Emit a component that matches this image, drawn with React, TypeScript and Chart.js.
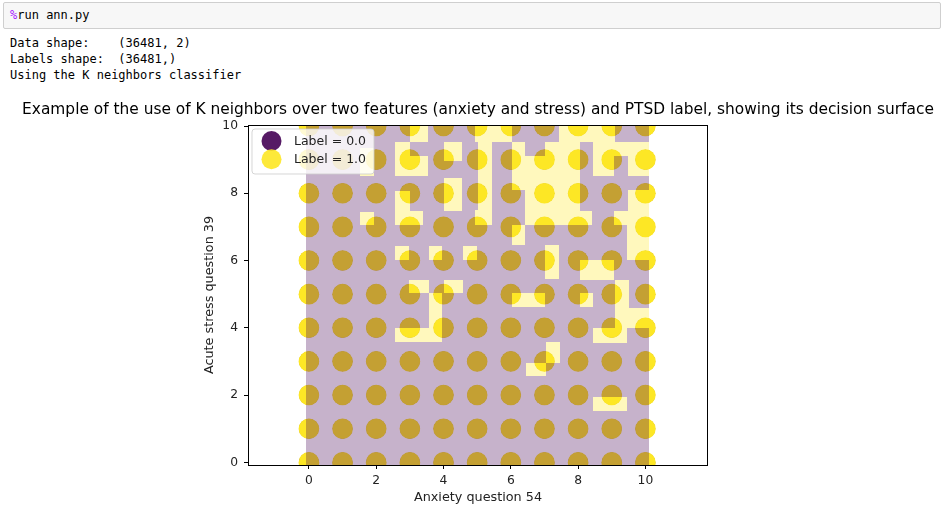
import React, { useEffect, useRef } from 'react';
import { Chart, registerables } from 'chart.js';

Chart.register(...registerables);

// ---- data ----
const anxietyValues = [0, 1, 2, 3, 4, 5, 6, 7, 8, 9, 10];
const stressValues = [0, 1, 2, 3, 4, 5, 6, 7, 8, 9, 10];
const classLabels = [0.0, 1.0];
const xTicks = [0, 2, 4, 6, 8, 10];
const yTicks = [0, 2, 4, 6, 8, 10];
const xRange = [-1.81, 11.86];
const yRange = [-0.08, 10.03];
const surfaceX = [-0.09, 10.1];
const surfaceY = [-0.1, 10.1];
// regions where the K neighbors classifier predicts label 1.0: [x0, x1, y0, y1]
const label1Regions: number[][] = [
  [3.0, 3.55, 9.53, 10.1],
  [4.95, 6.03, 9.53, 10.1],
  [7.42, 9.1, 9.53, 10.1],
  [2.56, 3.0, 8.5, 9.53],
  [4.0, 4.55, 8.95, 9.53],
  [5.03, 5.45, 7.05, 9.53],
  [6.03, 6.43, 9.1, 9.53],
  [7.03, 8.05, 9.1, 9.53],
  [8.45, 10.1, 9.1, 9.53],
  [1.52, 1.94, 8.5, 9.35],
  [3.0, 3.55, 8.5, 9.1],
  [6.03, 8.05, 8.1, 9.1],
  [8.45, 9.07, 8.5, 9.1],
  [9.47, 10.1, 8.5, 9.1],
  [4.0, 4.55, 7.46, 8.45],
  [6.43, 8.05, 7.05, 8.1],
  [9.47, 10.1, 7.05, 8.1],
  [2.56, 3.0, 7.05, 8.06],
  [3.0, 3.38, 7.05, 7.46],
  [1.52, 1.94, 7.05, 7.45],
  [4.94, 5.44, 7.05, 7.5],
  [8.05, 8.41, 7.05, 7.46],
  [9.07, 9.47, 7.05, 7.46],
  [6.03, 6.43, 6.46, 7.05],
  [9.45, 10.1, 6.03, 7.05],
  [2.56, 2.96, 6.03, 6.43],
  [3.57, 3.97, 6.03, 6.43],
  [4.59, 4.99, 6.03, 6.43],
  [7.02, 7.42, 5.44, 6.46],
  [8.06, 9.07, 5.42, 6.02],
  [2.96, 3.57, 5.02, 5.42],
  [4.0, 4.59, 5.02, 5.42],
  [9.1, 9.5, 3.98, 5.42],
  [3.57, 3.97, 3.98, 5.02],
  [6.03, 7.02, 4.63, 5.02],
  [8.06, 8.45, 4.63, 5.02],
  [9.5, 10.1, 3.98, 4.6],
  [2.56, 3.97, 3.59, 3.98],
  [8.45, 9.45, 3.56, 3.98],
  [7.05, 7.45, 2.96, 3.59],
  [6.45, 7.04, 2.57, 2.96],
  [8.45, 9.46, 1.53, 1.93],
];

const PURPLE = '#440154';
const YELLOW = '#fde725';
const FONT = 'DejaVu Sans';

const gridPoints = anxietyValues.flatMap((x) => stressValues.map((y) => ({ x, y })));

const surfacePlugin = {
  id: 'surface',
  afterDatasetsDraw(chart: any) {
    const { ctx, chartArea: ca } = chart;
    const xs = chart.scales.x;
    const ys = chart.scales.y;
    const dpr = chart.currentDevicePixelRatio || 1;
    const off = document.createElement('canvas');
    off.width = chart.canvas.width;
    off.height = chart.canvas.height;
    const o = off.getContext('2d') as CanvasRenderingContext2D;
    o.scale(dpr, dpr);
    const rect = (x0: number, x1: number, y0: number, y1: number, color: string) => {
      const px0 = Math.round(xs.getPixelForValue(x0));
      const px1 = Math.round(xs.getPixelForValue(x1));
      const py0 = Math.round(ys.getPixelForValue(y1));
      const py1 = Math.round(ys.getPixelForValue(y0));
      o.fillStyle = color;
      o.fillRect(px0, py0, px1 - px0, py1 - py0);
    };
    rect(surfaceX[0], surfaceX[1], surfaceY[0], surfaceY[1], PURPLE);
    label1Regions.forEach((c) => rect(c[0], c[1], c[2], c[3], YELLOW));
    ctx.save();
    ctx.beginPath();
    ctx.rect(ca.left, ca.top, ca.right - ca.left, ca.bottom - ca.top);
    ctx.clip();
    ctx.globalAlpha = 0.3;
    ctx.setTransform(1, 0, 0, 1, 0, 0);
    ctx.drawImage(off, 0, 0);
    ctx.restore();
  },
  afterDraw(chart: any) {
    const { ctx, chartArea: ca } = chart;
    ctx.save();
    // spines
    ctx.strokeStyle = '#000';
    ctx.lineWidth = 1;
    ctx.strokeRect(ca.left + 0.5, ca.top + 0.5, ca.right - ca.left - 1, ca.bottom - ca.top);
    // legend
    const lx = ca.left + 4;
    const ly = ca.top + 4;
    const lw = 122;
    const lh = 45;
    ctx.beginPath();
    ctx.roundRect(lx, ly, lw, lh, 3);
    ctx.fillStyle = 'rgba(255,255,255,0.8)';
    ctx.fill();
    ctx.strokeStyle = 'rgba(204,204,204,0.8)';
    ctx.stroke();
    const colors = ['rgba(68,1,84,0.9)', 'rgba(253,231,37,0.9)'];
    classLabels.forEach((lab, i) => {
      const cy = ly + 12 + i * 18.3;
      ctx.beginPath();
      ctx.arc(lx + 19.5, cy, 10, 0, Math.PI * 2);
      ctx.fillStyle = colors[i];
      ctx.fill();
      ctx.fillStyle = '#222';
      ctx.font = `12.5px "${FONT}"`;
      ctx.textBaseline = 'middle';
      ctx.textAlign = 'left';
      ctx.fillText(`Label = ${lab.toFixed(1)}`, lx + 42, cy + 0.5);
    });
    ctx.restore();
  },
};

function ChartView() {
  const ref = useRef<HTMLCanvasElement>(null);
  useEffect(() => {
    if (!ref.current) return;
    const tickFont = { family: FONT, size: 12.3 };
    const titleFont = { family: FONT, size: 12.8, lineHeight: 1.2 };
    const chart = new Chart(ref.current, {
      type: 'scatter',
      data: {
        datasets: [
          {
            label: 'Label = 1.0',
            data: gridPoints,
            backgroundColor: YELLOW,
            pointRadius: 10.3,
            pointHoverRadius: 10.3,
            pointBorderWidth: 0,
            order: 0,
            clip: 0,
          },
          {
            label: 'Label = 0.0',
            data: gridPoints,
            backgroundColor: PURPLE,
            pointRadius: 9.8,
            pointHoverRadius: 9.8,
            pointBorderWidth: 0,
            order: 1,
            clip: 0,
          },
        ],
      },
      options: {
        animation: false,
        responsive: false,
        events: [],
        layout: { padding: { left: 200, right: 237, top: 30, bottom: 0 } },
        plugins: { legend: { display: false }, tooltip: { enabled: false }, title: { display: false } },
        scales: {
          x: {
            type: 'linear',
            position: 'bottom',
            min: xRange[0],
            max: xRange[1],
            afterBuildTicks: (s: any) => {
              s.ticks = xTicks.map((v) => ({ value: v }));
            },
            afterFit: (s: any) => {
              s.height = 44;
            },
            grid: { display: true, drawOnChartArea: false, drawTicks: true, tickLength: 4, color: '#000' },
            border: { display: false },
            ticks: { font: tickFont, color: '#222', padding: 4, maxRotation: 0, autoSkip: false },
            title: {
              display: true,
              text: 'Anxiety question 54',
              font: titleFont,
              color: '#222',
              padding: { top: 0, bottom: 4 },
            },
          },
          y: {
            type: 'linear',
            position: 'left',
            min: yRange[0],
            max: yRange[1],
            afterBuildTicks: (s: any) => {
              s.ticks = yTicks.map((v) => ({ value: v }));
            },
            afterFit: (s: any) => {
              s.width = 48;
            },
            grid: { display: true, drawOnChartArea: false, drawTicks: true, tickLength: 4, color: '#000' },
            border: { display: false },
            ticks: { font: tickFont, color: '#222', padding: 6, autoSkip: false },
            title: {
              display: true,
              text: 'Acute stress question 39',
              font: titleFont,
              color: '#222',
              padding: { top: 2, bottom: 0 },
            },
          },
        },
      },
      plugins: [surfacePlugin],
    } as any);
    return () => chart.destroy();
  }, []);
  return (
    <canvas
      ref={ref}
      width={945}
      height={414}
      style={{ position: 'absolute', left: 0, top: 95, width: 945, height: 414, display: 'block' }}
    />
  );
}

export default function App() {
  const mono = '"DejaVu Sans Mono", monospace';
  return (
    <div style={{ position: 'absolute', left: 0, top: 0, width: 945, height: 509, background: '#fff', overflow: 'hidden' }}>
      <div
        style={{
          position: 'absolute',
          left: 3,
          top: 2,
          width: 936,
          height: 25,
          background: '#f7f7f7',
          border: '1px solid #cfcfcf',
          borderRadius: 2,
        }}
      />
      <div style={{ position: 'absolute', left: 10, top: 7, fontFamily: mono, fontSize: 12, lineHeight: '16px', color: '#000', whiteSpace: 'pre' }}>
        <span style={{ color: '#aa22ff' }}>%</span>run ann.py
      </div>
      <pre
        style={{
          position: 'absolute',
          left: 10,
          top: 35,
          margin: 0,
          fontFamily: mono,
          fontSize: 12,
          lineHeight: '16px',
          color: '#000',
        }}
      >
        {'Data shape:    (36481, 2)\nLabels shape:  (36481,)\nUsing the K neighbors classifier'}
      </pre>
      <ChartView />
      <div
        style={{
          position: 'absolute',
          left: 478,
          top: 100,
          transform: 'translateX(-50%)',
          whiteSpace: 'nowrap',
          fontFamily: `"${FONT}"`,
          fontSize: 15.4,
          lineHeight: '18px',
          color: '#000',
        }}
      >
        Example of the use of K neighbors over two features (anxiety and stress) and PTSD label, showing its decision surface
      </div>
    </div>
  );
}
